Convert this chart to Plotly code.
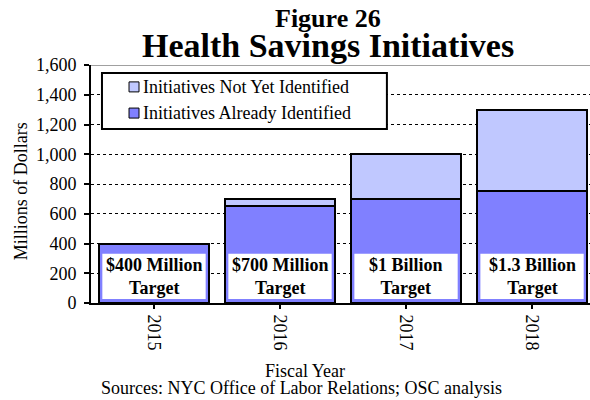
import plotly.graph_objects as go

years = ["2015", "2016", "2017", "2018"]
identified = [400, 650, 700, 750]
not_yet = [0, 50, 300, 550]
series_names = ["Initiatives Already Identified", "Initiatives Not Yet Identified"]
target_labels = ["$400 Million", "$700 Million", "$1 Billion", "$1.3 Billion"]
y_ticks = [0, 200, 400, 600, 800, 1000, 1200, 1400, 1600]
y_ticktext = ["0", "200", "400", "600", "800", "1,000", "1,200", "1,400", "1,600"]

FONT = "Liberation Serif"
DARK = "#8080FF"
LIGHT = "#C0C8FF"

fig = go.Figure()
fig.add_trace(go.Bar(
    x=years, y=identified, name=series_names[0],
    marker=dict(color=DARK, line=dict(color="black", width=2)),
))
fig.add_trace(go.Bar(
    x=years, y=not_yet, name=series_names[1],
    marker=dict(color=LIGHT, line=dict(color="black", width=2)),
))

shapes = []
annotations = []
for i, lab in enumerate(target_labels):
    shapes.append(dict(type="rect", xref="x", yref="y", x0=i - 0.41, x1=i + 0.41,
                       y0=27, y1=331, fillcolor="white", line=dict(width=0), layer="above"))
    annotations.append(dict(x=i, y=179, xref="x", yref="y", text="<b>" + lab + "<br>Target</b>",
                            showarrow=False, font=dict(family=FONT, size=18, color="black"),
                            xanchor="center", yanchor="middle"))

shapes.append(dict(type="line", xref="paper", yref="y", x0=0, x1=1, y0=1600, y1=1600,
                   line=dict(color="#808080", width=1.5)))

# manual legend (top entry = not yet identified)
shapes.append(dict(type="rect", xref="paper", yref="paper", x0=0.022, x1=0.593, y0=0.731, y1=0.966,
                   fillcolor="white", line=dict(color="black", width=2), layer="above"))
legend_rows = [(series_names[1], LIGHT, 0.908), (series_names[0], DARK, 0.798)]
for name, col, yc in legend_rows:
    shapes.append(dict(type="rect", xref="paper", yref="paper", x0=0.0762, x1=0.0962,
                       y0=yc - 0.021, y1=yc + 0.021, fillcolor=col,
                       line=dict(color="black", width=1), layer="above"))
    annotations.append(dict(x=0.1002, y=yc, xref="paper", yref="paper", text=name, showarrow=False,
                            font=dict(family=FONT, size=18, color="black"),
                            xanchor="left", yanchor="middle"))

annotations += [
    dict(x=0.475, y=1.197, xref="paper", yref="paper", text="<b>Figure 26</b>", showarrow=False,
         font=dict(family=FONT, size=26, color="black"), xanchor="center", yanchor="middle"),
    dict(x=0.475, y=1.084, xref="paper", yref="paper", text="<b>Health Savings Initiatives</b>",
         showarrow=False, font=dict(family=FONT, size=34, color="black"),
         xanchor="center", yanchor="middle"),
    dict(x=0.429, y=-0.286, xref="paper", yref="paper", text="Fiscal Year", showarrow=False,
         font=dict(family=FONT, size=18, color="black"), xanchor="center", yanchor="middle"),
    dict(x=0.421, y=-0.357, xref="paper", yref="paper",
         text="Sources: NYC Office of Labor Relations; OSC analysis", showarrow=False,
         font=dict(family=FONT, size=18, color="black"), xanchor="center", yanchor="middle"),
    dict(x=-0.140, y=0.47, xref="paper", yref="paper", text="Millions of Dollars", showarrow=False,
         textangle=-90, font=dict(family=FONT, size=18, color="black"),
         xanchor="center", yanchor="middle"),
]

fig.update_layout(
    template="none",
    width=590, height=400,
    margin=dict(l=91, r=0, t=65, b=97, autoexpand=False),
    barmode="stack", bargap=0.127,
    paper_bgcolor="white", plot_bgcolor="white",
    font=dict(family=FONT, size=18, color="black"),
    showlegend=False,
    shapes=shapes, annotations=annotations,
)
fig.update_xaxes(type="category", range=[-0.5, 3.46], showline=True, linecolor="black", linewidth=2,
                 ticks="outside", ticklen=4, tickcolor="black", tickwidth=1.5,
                 tickangle=90, showgrid=False, automargin=False, ticklabelstandoff=2,
                 tickfont=dict(family=FONT, size=18, color="black"))
fig.update_yaxes(range=[0, 1600], tickvals=y_ticks, ticktext=y_ticktext,
                 showline=True, linecolor="black", linewidth=2,
                 ticks="outside", ticklen=5, tickcolor="black", tickwidth=1.5,
                 showgrid=True, gridcolor="black", griddash="dot", gridwidth=1,
                 zeroline=False, automargin=False, ticklabelstandoff=4,
                 tickfont=dict(family=FONT, size=18, color="black"))

fig.write_html("out.html", config={"displayModeBar": False},
               post_script="document.body.style.margin='0';")
